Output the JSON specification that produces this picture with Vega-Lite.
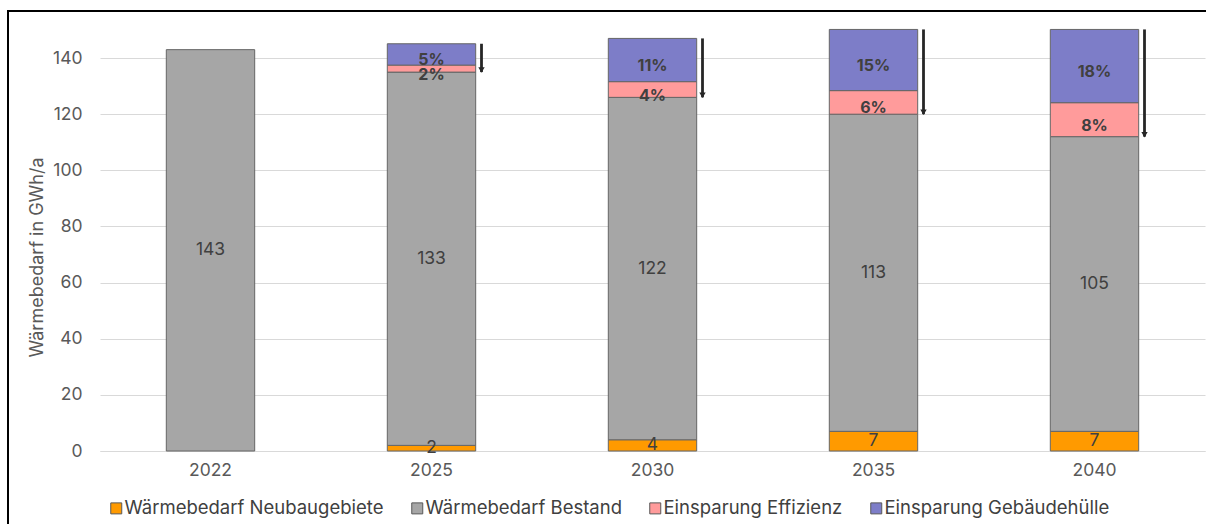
{
  "$schema": "https://vega.github.io/schema/vega-lite/v6.json",
  "autosize": {"type": "none"},
  "padding": {"left": 8, "top": 11, "right": 0, "bottom": 0},
  "width": 1210,
  "height": 520,
  "background": "#ffffff",
  "config": {
    "font": "Inter",
    "view": {"stroke": "#000000", "strokeWidth": 2},
    "axis": {"labelFont": "Inter", "titleFont": "Inter"},
    "legend": {"labelFont": "Inter"}
  },
  "data": {
    "values": [
      {"year": "2022", "category": "Wärmebedarf Bestand", "ord": 2, "value": 143, "label": "143"},
      {"year": "2025", "category": "Wärmebedarf Neubaugebiete", "ord": 1, "value": 2, "label": "2"},
      {"year": "2025", "category": "Wärmebedarf Bestand", "ord": 2, "value": 133, "label": "133"},
      {"year": "2025", "category": "Einsparung Effizienz", "ord": 3, "value": 2.5, "label": "2%"},
      {"year": "2025", "category": "Einsparung Gebäudehülle", "ord": 4, "value": 7.6, "label": "5%"},
      {"year": "2030", "category": "Wärmebedarf Neubaugebiete", "ord": 1, "value": 4, "label": "4"},
      {"year": "2030", "category": "Wärmebedarf Bestand", "ord": 2, "value": 122, "label": "122"},
      {"year": "2030", "category": "Einsparung Effizienz", "ord": 3, "value": 5.6, "label": "4%"},
      {"year": "2030", "category": "Einsparung Gebäudehülle", "ord": 4, "value": 15.4, "label": "11%"},
      {"year": "2035", "category": "Wärmebedarf Neubaugebiete", "ord": 1, "value": 7, "label": "7"},
      {"year": "2035", "category": "Wärmebedarf Bestand", "ord": 2, "value": 113, "label": "113"},
      {"year": "2035", "category": "Einsparung Effizienz", "ord": 3, "value": 8.4, "label": "6%"},
      {"year": "2035", "category": "Einsparung Gebäudehülle", "ord": 4, "value": 21.8, "label": "15%"},
      {"year": "2040", "category": "Wärmebedarf Neubaugebiete", "ord": 1, "value": 7, "label": "7"},
      {"year": "2040", "category": "Wärmebedarf Bestand", "ord": 2, "value": 105, "label": "105"},
      {"year": "2040", "category": "Einsparung Effizienz", "ord": 3, "value": 12.1, "label": "8%"},
      {"year": "2040", "category": "Einsparung Gebäudehülle", "ord": 4, "value": 26.1, "label": "18%"}
    ]
  },
  "layer": [
    {
      "mark": {"type": "bar", "stroke": "#666666", "strokeWidth": 1},
      "encoding": {
        "x": {
          "field": "year",
          "type": "nominal",
          "scale": {"range": [92, 1197], "paddingInner": 0.6, "paddingOuter": 0.3},
          "axis": {
            "title": null,
            "labelAngle": 0,
            "labelFontSize": 17.5,
            "labelColor": "#595959",
            "labelPadding": 10,
            "ticks": false,
            "domainColor": "#D9D9D9",
            "domainWidth": 1,
            "grid": false,
            "offset": -80
          }
        },
        "y": {
          "field": "value",
          "type": "quantitative",
          "stack": "zero",
          "scale": {"domain": [0, 150], "nice": false, "range": [440, 19]},
          "axis": {
            "title": "Wärmebedarf in GWh/a",
            "titleFontSize": 18,
            "titleFontWeight": "normal",
            "titleColor": "#595959",
            "titlePadding": 6,
            "titleY": 246,
            "values": [0, 20, 40, 60, 80, 100, 120, 140],
            "labelFontSize": 17.5,
            "labelColor": "#595959",
            "labelPadding": 18,
            "ticks": false,
            "domain": false,
            "grid": true,
            "gridColor": "#D9D9D9",
            "gridWidth": 1,
            "offset": -92
          }
        },
        "color": {
          "field": "category",
          "type": "nominal",
          "scale": {
            "domain": ["Wärmebedarf Neubaugebiete", "Wärmebedarf Bestand", "Einsparung Effizienz", "Einsparung Gebäudehülle"],
            "range": ["#FF9A00", "#A6A6A6", "#FF9B9B", "#7D7DC8"]
          },
          "legend": {
            "orient": "none",
            "legendX": 99,
            "legendY": 488,
            "direction": "horizontal",
            "title": null,
            "symbolType": "square",
            "symbolSize": 121,
            "symbolStrokeColor": "#595959",
            "symbolStrokeWidth": 1,
            "labelFontSize": 18.5,
            "labelColor": "#404040",
            "labelOffset": -1,
            "columnPadding": 24,
            "labelLimit": 400
          }
        },
        "order": {"field": "ord", "type": "quantitative"}
      }
    },
    {
      "transform": [{"calculate": "datum.ord <= 2 ? datum.label : ''", "as": "baseLabel"}],
      "mark": {"type": "text", "fontSize": 17.5, "color": "#404040"},
      "encoding": {
        "x": {"field": "year", "type": "nominal"},
        "y": {"field": "value", "type": "quantitative", "stack": "zero", "bandPosition": 0.5},
        "detail": {"field": "category"},
        "order": {"field": "ord", "type": "quantitative"},
        "text": {"field": "baseLabel"}
      }
    },
    {
      "transform": [{"calculate": "datum.ord > 2 ? datum.label : ''", "as": "pctLabel"}],
      "mark": {"type": "text", "fontSize": 16, "fontWeight": "bold", "color": "#404040", "dy": 6},
      "encoding": {
        "x": {"field": "year", "type": "nominal"},
        "y": {"field": "value", "type": "quantitative", "stack": "zero", "bandPosition": 0.5},
        "detail": {"field": "category"},
        "order": {"field": "ord", "type": "quantitative"},
        "text": {"field": "pctLabel"}
      }
    },
    {
      "transform": [
        {"calculate": "datum.ord <= 2 ? datum.value : 0", "as": "baseVal"},
        {"aggregate": [{"op": "sum", "field": "value", "as": "total"}, {"op": "sum", "field": "baseVal", "as": "base"}], "groupby": ["year"]},
        {"filter": "datum.total > datum.base"}
      ],
      "mark": {"type": "rule", "xOffset": 50, "strokeWidth": 2.8, "color": "#262626"},
      "encoding": {
        "x": {"field": "year", "type": "nominal"},
        "y": {"field": "total", "type": "quantitative"},
        "y2": {"field": "base"}
      }
    },
    {
      "transform": [
        {"calculate": "datum.ord <= 2 ? datum.value : 0", "as": "baseVal"},
        {"aggregate": [{"op": "sum", "field": "value", "as": "total"}, {"op": "sum", "field": "baseVal", "as": "base"}], "groupby": ["year"]},
        {"filter": "datum.total > datum.base"}
      ],
      "mark": {"type": "point", "shape": "triangle-down", "filled": true, "size": 40, "opacity": 1, "color": "#262626", "xOffset": 50, "yOffset": -2},
      "encoding": {
        "x": {"field": "year", "type": "nominal"},
        "y": {"field": "base", "type": "quantitative"}
      }
    }
  ]
}
